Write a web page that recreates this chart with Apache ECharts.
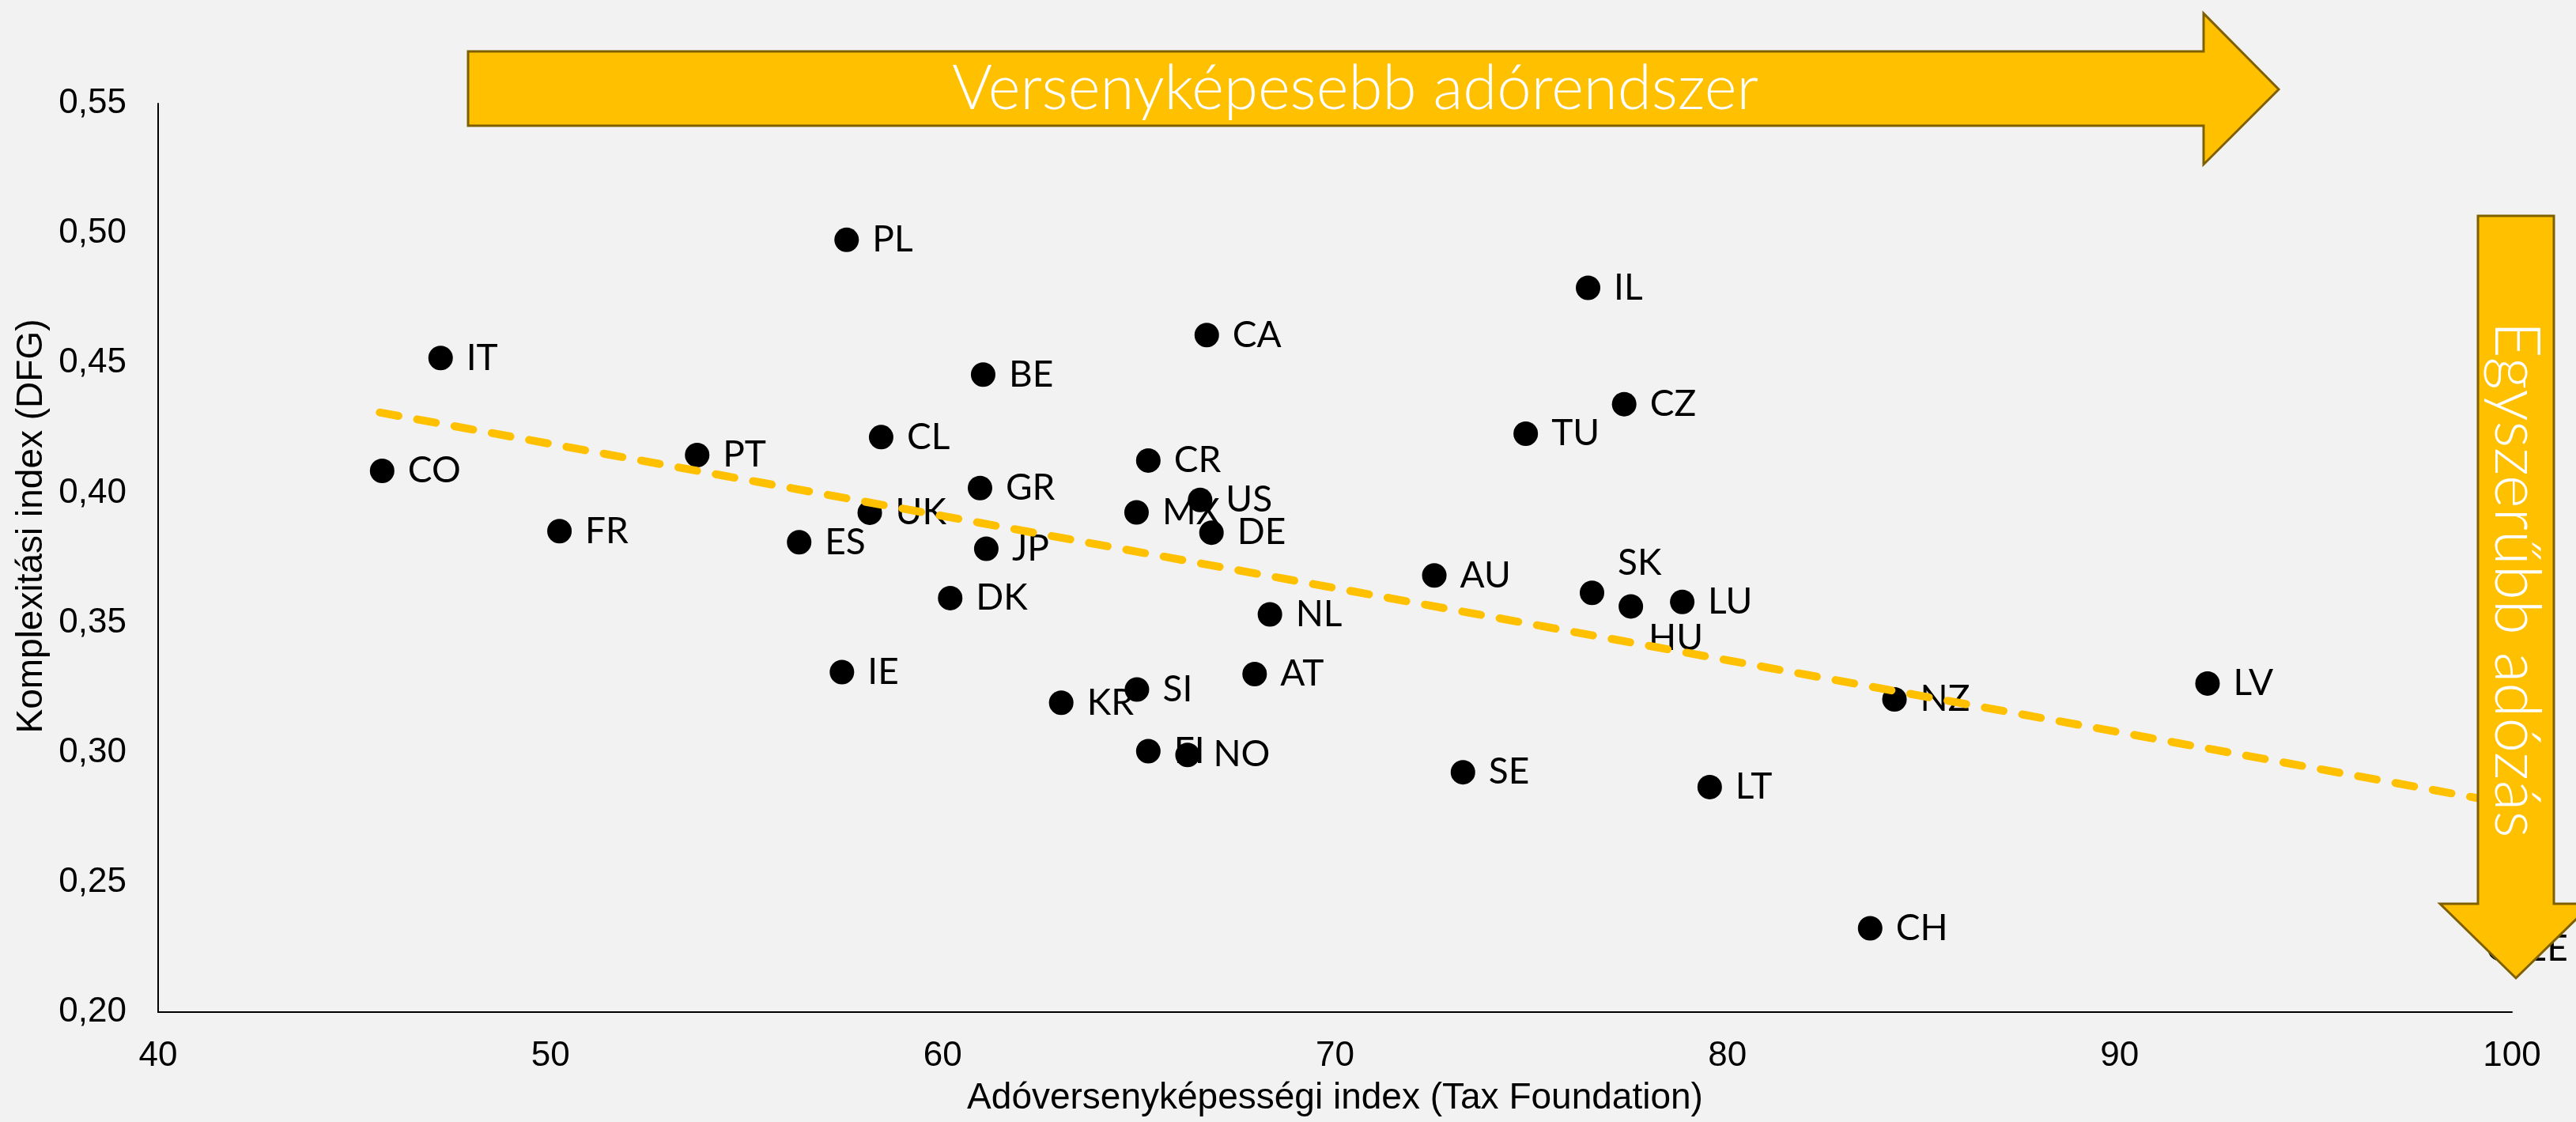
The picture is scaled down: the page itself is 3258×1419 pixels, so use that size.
<!DOCTYPE html>
<html>
<head>
<meta charset="utf-8">
<title>Adóversenyképesség és komplexitás</title>
<script src="https://cdn.jsdelivr.net/npm/echarts@6/dist/echarts.min.js"></script>
<style>
  html, body { margin: 0; padding: 0; background: #f2f2f2; }
  #chart { width: 3258px; height: 1419px; }
</style>
</head>
<body>
<div id="chart"></div>
<script>
  // országkódok
  var countries = ['PL', 'IL', 'CA', 'IT', 'BE', 'CZ', 'TU', 'CL', 'PT', 'CR',
    'CO', 'GR', 'US', 'UK', 'MX', 'FR', 'DE', 'ES', 'JP', 'AU',
    'SK', 'DK', 'LU', 'HU', 'NL', 'IE', 'AT', 'LV', 'SI', 'NZ',
    'KR', 'FI', 'NO', 'SE', 'LT', 'CH', 'EE'];
  // Adóversenyképességi index (Tax Foundation)
  var taxIndex = [57.55, 76.45, 66.73, 47.2, 61.03, 77.37, 74.86, 58.43, 53.74, 65.24,
    45.71, 60.95, 66.56, 58.14, 64.94, 50.23, 66.85, 56.34, 61.11, 72.53,
    76.55, 60.19, 78.85, 77.54, 68.34, 57.43, 67.95, 92.24, 64.95, 84.26,
    63.02, 65.24, 66.24, 73.26, 79.55, 83.64, 99.7];
  // Komplexitási index (DFG)
  var complexity = [0.4975, 0.479, 0.4608, 0.452, 0.4456, 0.4342, 0.4228, 0.4215, 0.4146, 0.4125,
    0.4085, 0.4019, 0.3973, 0.3924, 0.3925, 0.3853, 0.3847, 0.381, 0.3785, 0.3682,
    0.3615, 0.3595, 0.358, 0.3563, 0.3532, 0.331, 0.3302, 0.3266, 0.3243, 0.3205,
    0.3192, 0.3005, 0.2991, 0.2924, 0.2867, 0.2323, 0.2244];
  // trendvonal végpontjai
  var trendX = [45.65, 100];
  var trendY = [0.431, 0.28];

  // kézzel áthelyezett címkék
  var labelTweaks = {
    SK: { position: 'right', offset: [0, -38] },
    HU: { position: 'right', offset: [-10, 40] }
  };

  var points = countries.map(function (c, i) {
    var item = { name: c, value: [taxIndex[i], complexity[i]] };
    if (labelTweaks[c]) item.label = labelTweaks[c];
    return item;
  });

  var trend = trendX.map(function (x, i) { return [x, trendY[i]]; });

  var condensed = '"Liberation Sans Narrow", "Liberation Sans", sans-serif';
  var roundFont = 'Lato, "Open Sans", sans-serif';
  var arrowFill = '#ffc000';
  var arrowLine = '#7f6000';

  var option = {
    backgroundColor: '#f2f2f2',
    animation: false,
    grid: { left: 200, right: 81, top: 131, bottom: 139 },
    xAxis: {
      type: 'value',
      min: 40, max: 100, interval: 10,
      name: 'Adóversenyképességi index (Tax Foundation)',
      nameLocation: 'middle',
      nameGap: 86,
      nameTextStyle: { fontFamily: condensed, fontSize: 46, color: '#000' },
      axisLine: { show: true, lineStyle: { color: '#000', width: 2 } },
      axisTick: { show: false },
      splitLine: { show: false },
      axisLabel: { fontFamily: condensed, fontSize: 44, color: '#000', margin: 34 }
    },
    yAxis: {
      type: 'value',
      min: 0.2, max: 0.55, interval: 0.05,
      name: 'Komplexitási index (DFG)',
      nameLocation: 'middle',
      nameGap: 136,
      nameTextStyle: { fontFamily: condensed, fontSize: 46, color: '#000', padding: [0, 0, 0, 80] },
      axisLine: { show: true, lineStyle: { color: '#000', width: 2 } },
      axisTick: { show: false },
      splitLine: { show: false },
      axisLabel: {
        fontFamily: condensed, fontSize: 44, color: '#000', margin: 40,
        formatter: function (v) { return v.toFixed(2).replace('.', ','); }
      }
    },
    series: [
      {
        type: 'scatter',
        z: 2,
        symbol: 'circle',
        symbolSize: 31,
        itemStyle: { color: '#000', opacity: 1 },
        label: {
          show: true,
          position: 'right',
          distance: 17,
          formatter: '{b}',
          fontFamily: roundFont,
          fontSize: 46,
          color: '#000'
        },
        data: points
      },
      {
        type: 'line',
        z: 3,
        symbol: 'none',
        silent: true,
        lineStyle: { color: '#ffc000', width: 10, type: [24, 24], cap: 'round' },
        data: trend
      }
    ],
    graphic: [
      {
        type: 'polygon',
        z: 100,
        shape: { points: [[592, 65], [2787, 65], [2787, 17], [2882, 113], [2787, 208], [2787, 159], [592, 159]] },
        style: { fill: arrowFill, stroke: arrowLine, lineWidth: 3 }
      },
      {
        type: 'text',
        z: 101,
        x: 1714, y: 113,
        style: {
          text: 'Versenyképesebb adórendszer',
          fill: '#fff',
          font: '300 78px ' + roundFont,
          align: 'center',
          verticalAlign: 'middle'
        }
      },
      {
        type: 'polygon',
        z: 100,
        shape: { points: [[3134, 273], [3230, 273], [3230, 1143], [3278, 1143], [3182, 1237], [3086, 1143], [3134, 1143]] },
        style: { fill: arrowFill, stroke: arrowLine, lineWidth: 3 }
      },
      {
        type: 'text',
        z: 101,
        x: 3182, y: 733,
        rotation: -Math.PI / 2,
        style: {
          text: 'Egyszerűbb adózás',
          fill: '#fff',
          font: '300 80px ' + roundFont,
          align: 'center',
          verticalAlign: 'middle'
        }
      }
    ]
  };

  var myChart = echarts.init(document.getElementById('chart'));
  myChart.setOption(option);
  window.addEventListener('resize', function () {
    myChart.resize();
  });
</script>
</body>
</html>
